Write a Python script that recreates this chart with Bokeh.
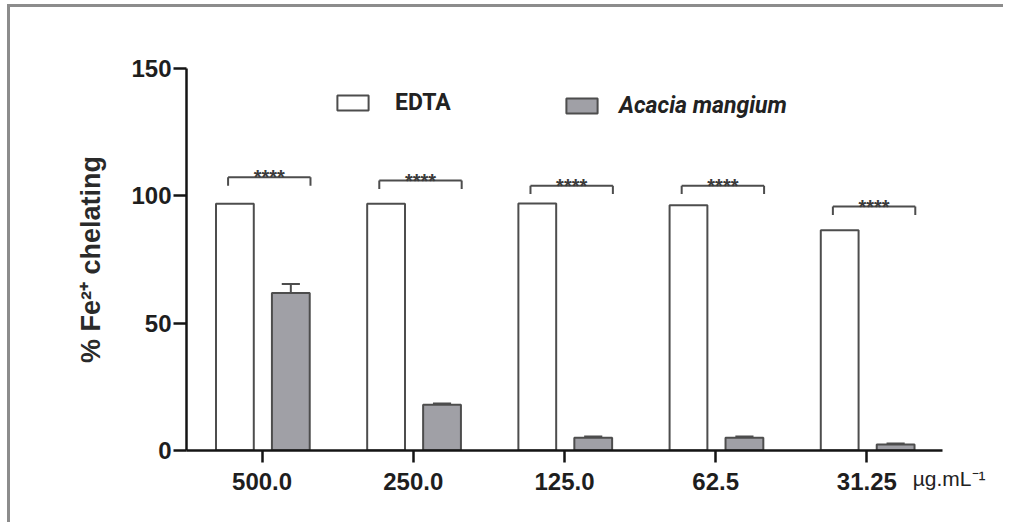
from bokeh.plotting import figure
from bokeh.models import ColumnDataSource, FactorRange, Legend, LegendItem, Title
from bokeh.transform import dodge
from bokeh.core.properties import value
from bokeh.embed import file_html
from bokeh.resources import INLINE

# ---- data ----
concentrations = ["500.0", "250.0", "125.0", "62.5", "31.25"]
edta = [96.9, 96.9, 97.0, 96.3, 86.5]
acacia = [61.8, 18.0, 5.0, 5.0, 2.4]
acacia_err = [3.6, 0.5, 0.5, 0.5, 0.3]
bracket_top = [107.3, 106.0, 104.0, 104.0, 95.8]
significance = ["****", "****", "****", "****", "****"]
series_names = ["EDTA", "Acacia mangium"]
y_ticks = [0, 50, 100, 150]
unit_label = "µg.mL⁻¹"
y_label = "% Fe²⁺ chelating"

# ---- styling ----
FONT = "Liberation Sans"
AXIS_COLOR = "#141414"
BAR_LINE = "#4d4d4d"
ACACIA_FILL = "#a0a0a6"
W_OFF_EDTA = -0.18
W_OFF_AC = 0.19
BAR_W = 0.25
BR_L, BR_R, BR_DROP = -0.225, 0.32, 3.3

src = ColumnDataSource(dict(
    cat=concentrations,
    edta=edta,
    acacia=acacia,
    err_top=[a + e for a, e in zip(acacia, acacia_err)],
    br=bracket_top,
    br_low=[b - BR_DROP for b in bracket_top],
    sig=significance,
))

p = figure(
    x_range=FactorRange(*concentrations, range_padding=0),
    y_range=(0, 150),
    width=996, height=518,
    min_border_left=176, min_border_right=64,
    min_border_top=61, min_border_bottom=75,
    output_backend="svg", toolbar_location=None,
    background_fill_color="white", border_fill_color="white",
    outline_line_color=None,
    styles={"border-left": "3px solid #8c8c8c", "border-top": "3px solid #8c8c8c",
            "margin-left": "7px", "margin-top": "4px"},
)
p.xgrid.visible = False
p.ygrid.visible = False

r_edta = p.vbar(x=dodge("cat", W_OFF_EDTA, range=p.x_range), top="edta", bottom=0,
                width=BAR_W, source=src, fill_color="white",
                line_color=BAR_LINE, line_width=2)
r_ac = p.vbar(x=dodge("cat", W_OFF_AC, range=p.x_range), top="acacia", bottom=0,
              width=BAR_W, source=src, fill_color=ACACIA_FILL,
              line_color=BAR_LINE, line_width=2)

# error bars (upper only)
p.segment(x0=dodge("cat", W_OFF_AC, range=p.x_range), y0="acacia",
          x1=dodge("cat", W_OFF_AC, range=p.x_range), y1="err_top",
          source=src, line_color=BAR_LINE, line_width=2)
p.segment(x0=dodge("cat", W_OFF_AC - 0.06, range=p.x_range), y0="err_top",
          x1=dodge("cat", W_OFF_AC + 0.06, range=p.x_range), y1="err_top",
          source=src, line_color=BAR_LINE, line_width=2)

# significance brackets
p.segment(x0=dodge("cat", BR_L, range=p.x_range), y0="br",
          x1=dodge("cat", BR_R, range=p.x_range), y1="br",
          source=src, line_color=BAR_LINE, line_width=2)
p.segment(x0=dodge("cat", BR_L, range=p.x_range), y0="br",
          x1=dodge("cat", BR_L, range=p.x_range), y1="br_low",
          source=src, line_color=BAR_LINE, line_width=2)
p.segment(x0=dodge("cat", BR_R, range=p.x_range), y0="br",
          x1=dodge("cat", BR_R, range=p.x_range), y1="br_low",
          source=src, line_color=BAR_LINE, line_width=2)
p.text(x=dodge("cat", (BR_L + BR_R) / 2, range=p.x_range), y="br", text="sig",
       source=src, text_align="center", text_baseline="alphabetic",
       y_offset=0, text_font=value(FONT), text_font_style="bold",
       text_font_size="20px", text_color="#3a3a3a")

# legends (two, so that only the second is italic)
for item_r, name, loc, style, stand in [(r_edta, series_names[0], (147, 334), "bold", 23),
                                        (r_ac, series_names[1], (376, 331), "bold italic", 18)]:
    lg = Legend(items=[LegendItem(label=name, renderers=[item_r])],
                location=loc, orientation="horizontal",
                glyph_width=39, glyph_height=19, label_height=19,
                label_standoff=stand, padding=0, margin=0, spacing=0,
                border_line_color=None, background_fill_alpha=0,
                label_text_font="Roboto", label_text_font_style=style,
                label_text_font_size="23px", label_text_color="#222222",
                label_text_baseline="middle")
    p.add_layout(lg, "center")

# axes
for ax in (p.xaxis[0], p.yaxis[0]):
    ax.axis_line_color = AXIS_COLOR
    ax.axis_line_width = 2.5
    ax.major_tick_line_color = AXIS_COLOR
    ax.major_tick_line_width = 2.5
    ax.major_tick_in = 0
    ax.major_label_text_font = FONT
    ax.major_label_text_font_style = "bold"
    ax.major_label_text_font_size = "24px"
    ax.major_label_text_color = "#1e1e1e"

p.xaxis.major_tick_out = 12
p.xaxis.major_label_standoff = 10
p.xaxis.group_text_font_size = "0px"

p.yaxis.ticker = y_ticks
p.yaxis.major_tick_out = 13
p.yaxis.minor_tick_line_color = None
p.yaxis.major_label_standoff = 2
p.yaxis.axis_label = y_label
p.yaxis.axis_label_text_font = FONT
p.yaxis.axis_label_text_font_style = "bold"
p.yaxis.axis_label_text_font_size = "27px"
p.yaxis.axis_label_text_color = "#2a2a2a"
p.yaxis.axis_label_standoff = 22

# unit label to the right of the last x tick label
p.add_layout(Title(text=unit_label, align="right", vertical_align="top",
                   offset=-43, standoff=-52, text_font=FONT,
                   text_font_style="normal", text_font_size="21px",
                   text_color="#222222"), "below")

open("out.html", "w").write(file_html(p, INLINE))
